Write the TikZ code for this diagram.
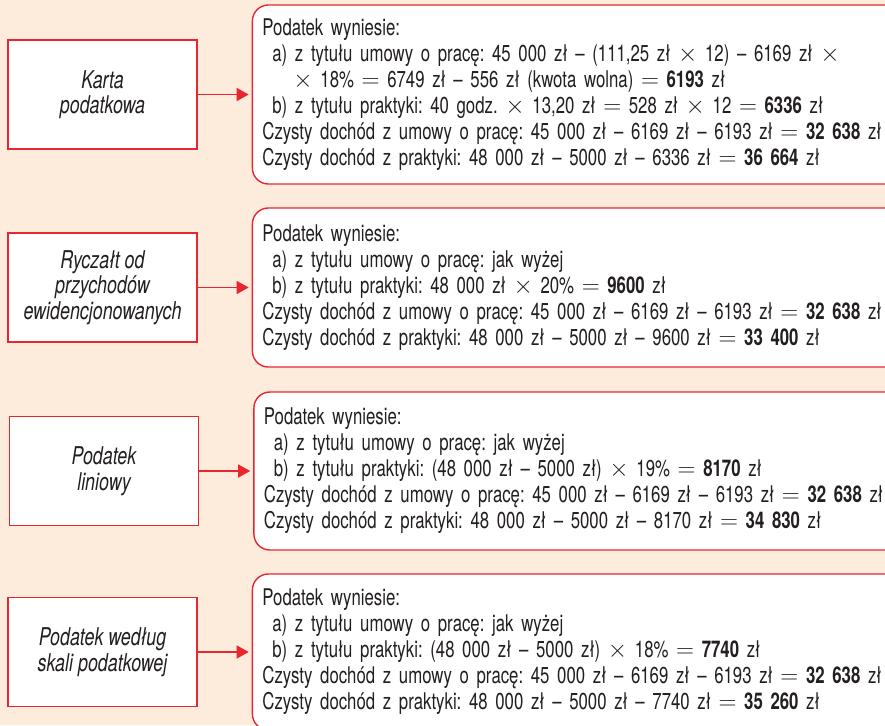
\documentclass[tikz,border=0pt]{standalone}
\usepackage{fontspec}
\setmainfont{TeX Gyre Heros}[FakeStretch=0.73]
\usetikzlibrary{positioning,arrows.meta}
\definecolor{tlo}{RGB}{253,235,220}
\definecolor{czerwony}{RGB}{232,38,48}
\definecolor{tekst}{RGB}{35,31,32}
\newcommand{\razy}{$\times$}
\newcommand{\rowna}{$=$}
\frenchspacing

\begin{document}
\begin{tikzpicture}[
		x=1pt, y=-1pt
		,font=\fontsize{23}{26}\selectfont
		,forma/.style={draw=czerwony, fill=white, line width=1.4pt, minimum width=189pt, minimum height=109pt, align=center, font=\fontsize{24.5}{25.5}\selectfont\itshape, text=tekst}
		,wynik/.style={draw=czerwony, fill=white, line width=1.4pt, rounded corners=16pt, text width=640pt, inner xsep=10pt, align=left, text=tekst}
		,strzalka/.style={draw=czerwony, line width=1.3pt, -{Triangle[length=12pt,width=13pt]}, shorten >=3pt}
		,node distance=54pt
	]
		\path[use as bounding box, fill=tlo] (0,0) rectangle (885,725);
		\clip (0,0) rectangle (885,725);

		% formy opodatkowania
		\node[forma] (k1) at (102.5,94.5) {Karta\\podatkowa};
		\node[forma] (k2) at (102.5,287.5) {Ryczałt od\\przychodów\\ewidencjonowanych};
		\node[forma] (k3) at (104,471) {Podatek\\liniowy};
		\node[forma] (k4) at (102.5,652) {Podatek według\\skali podatkowej};

		% wyliczenia
		\node[wynik, minimum height=179pt, right=of k1] (d1) {Podatek wyniesie:\\
			\hspace*{10pt}a) z tytułu umowy o pracę: 45 000 zł – (111,25 zł \razy{} 12) – 6169 zł \razy\\
			\hspace*{31pt}\razy{} 18\% \rowna{} 6749 zł – 556 zł (kwota wolna) \rowna{} \textbf{6193} zł\\
			\hspace*{10pt}b) z tytułu praktyki: 40 godz. \razy{} 13,20 zł \rowna{} 528 zł \razy{} 12 \rowna{} \textbf{6336} zł\\
			Czysty dochód z umowy o pracę: 45 000 zł – 6169 zł – 6193 zł \rowna{} \textbf{32 638} zł\\
			Czysty dochód z praktyki: 48 000 zł – 5000 zł – 6336 zł \rowna{} \textbf{36 664} zł};
		\node[wynik, minimum height=159pt, right=of k2] (d2) {Podatek wyniesie:\\
			\hspace*{10pt}a) z tytułu umowy o pracę: jak wyżej\\
			\hspace*{10pt}b) z tytułu praktyki: 48 000 zł \razy{} 20\% \rowna{} \textbf{9600} zł\\
			Czysty dochód z umowy o pracę: 45 000 zł – 6169 zł – 6193 zł \rowna{} \textbf{32 638} zł\\
			Czysty dochód z praktyki: 48 000 zł – 5000 zł – 9600 zł \rowna{} \textbf{33 400} zł};
		\node[wynik, minimum height=158pt, right=of k3] (d3) {Podatek wyniesie:\\
			\hspace*{10pt}a) z tytułu umowy o pracę: jak wyżej\\
			\hspace*{10pt}b) z tytułu praktyki: (48 000 zł – 5000 zł) \razy{} 19\% \rowna{} \textbf{8170} zł\\
			Czysty dochód z umowy o pracę: 45 000 zł – 6169 zł – 6193 zł \rowna{} \textbf{32 638} zł\\
			Czysty dochód z praktyki: 48 000 zł – 5000 zł – 8170 zł \rowna{} \textbf{34 830} zł};
		\node[wynik, minimum height=156pt, right=of k4] (d4) {Podatek wyniesie:\\
			\hspace*{10pt}a) z tytułu umowy o pracę: jak wyżej\\
			\hspace*{10pt}b) z tytułu praktyki: (48 000 zł – 5000 zł) \razy{} 18\% \rowna{} \textbf{7740} zł\\
			Czysty dochód z umowy o pracę: 45 000 zł – 6169 zł – 6193 zł \rowna{} \textbf{32 638} zł\\
			Czysty dochód z praktyki: 48 000 zł – 5000 zł – 7740 zł \rowna{} \textbf{35 260} zł};

		\draw[strzalka] (k1) -- (d1);
		\draw[strzalka] (k2) -- (d2);
		\draw[strzalka] (k3) -- (d3);
		\draw[strzalka] (k4) -- (d4);
	\end{tikzpicture}
\end{document}
